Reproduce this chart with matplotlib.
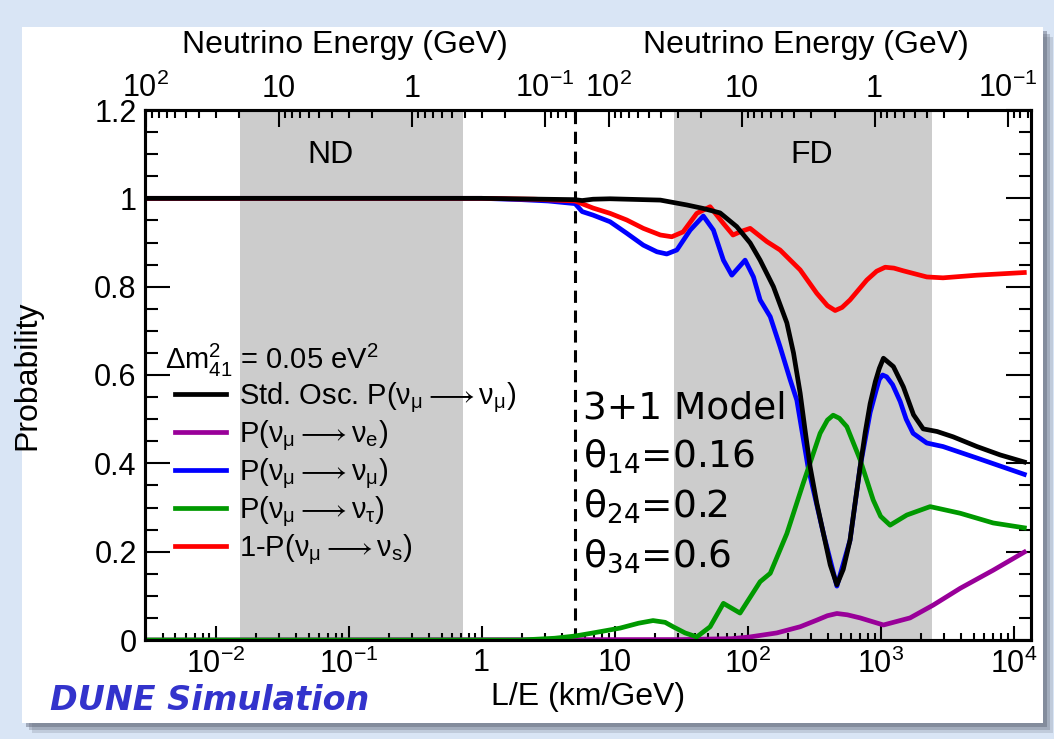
import numpy as np
import matplotlib
matplotlib.use("Agg")
import matplotlib.pyplot as plt
from matplotlib.patches import Rectangle
from matplotlib.ticker import FixedLocator, NullFormatter, LogLocator

plt.rcParams['font.family'] = ['Liberation Sans', 'DejaVu Sans']
plt.rcParams['mathtext.fontset'] = 'custom'
plt.rcParams['mathtext.rm'] = 'Liberation Sans'
plt.rcParams['mathtext.it'] = 'Liberation Sans:italic'
plt.rcParams['mathtext.bf'] = 'Liberation Sans:bold'
plt.rcParams['mathtext.default'] = 'regular'
plt.rcParams['mathtext.fallback'] = 'stixsans'

# curves: log10(L/E in km/GeV) and probability
std_lx = [-2.53, 0.0, 0.703, 0.756, 0.838, 0.966, 1.344, 1.543, 1.667, 1.793, 1.918, 2.019,
          2.094, 2.194, 2.295, 2.345, 2.395, 2.432, 2.470, 2.520, 2.570, 2.621, 2.671, 2.719,
          2.770, 2.808, 2.846, 2.884, 2.921, 2.960, 2.990, 3.021, 3.096, 3.171, 3.247, 3.320,
          3.425, 3.545, 3.724, 3.899, 4.08]
std_p = [1.0, 1.0, 0.997, 0.995, 0.998, 0.999, 0.996, 0.985, 0.977, 0.967, 0.936, 0.899,
         0.860, 0.800, 0.718, 0.650, 0.559, 0.475, 0.392, 0.310, 0.241, 0.170, 0.125, 0.160,
         0.226, 0.310, 0.392, 0.470, 0.535, 0.585, 0.615, 0.638, 0.619, 0.573, 0.510, 0.478,
         0.472, 0.460, 0.438, 0.419, 0.403]

mumu_lx = [-2.53, 0.0, 0.30, 0.50, 0.703, 0.756, 0.838, 0.966, 1.091, 1.216, 1.318, 1.392,
           1.468, 1.568, 1.667, 1.743, 1.818, 1.881, 1.981, 2.044, 2.094, 2.170, 2.244, 2.320,
           2.370, 2.454, 2.570, 2.671, 2.770, 2.846, 2.921, 2.966, 2.990, 3.015, 3.045, 3.090,
           3.147, 3.192, 3.244, 3.347, 3.469, 3.724, 4.08]
mumu_p = [1.0, 1.0, 0.997, 0.994, 0.988, 0.970, 0.962, 0.947, 0.921, 0.894, 0.879, 0.874,
          0.883, 0.928, 0.960, 0.928, 0.860, 0.826, 0.860, 0.822, 0.770, 0.732, 0.664, 0.589,
          0.543, 0.392, 0.241, 0.122, 0.226, 0.392, 0.515, 0.565, 0.590, 0.600, 0.596, 0.578,
          0.540, 0.500, 0.468, 0.446, 0.438, 0.412, 0.375]

sterile_lx = [-2.53, 0.0, 0.40, 0.703, 0.838, 0.966, 1.091, 1.216, 1.344, 1.430, 1.515, 1.618,
              1.718, 1.818, 1.890, 1.950, 2.019, 2.145, 2.244, 2.395, 2.520, 2.600, 2.658,
              2.710, 2.770, 2.896, 2.970, 3.034, 3.100, 3.169, 3.347, 3.469, 3.724, 4.08]
sterile_p = [1.0, 1.0, 0.998, 0.994, 0.978, 0.966, 0.951, 0.932, 0.917, 0.913, 0.924, 0.966,
             0.981, 0.943, 0.917, 0.925, 0.932, 0.902, 0.883, 0.838, 0.785, 0.757, 0.746,
             0.753, 0.770, 0.815, 0.835, 0.844, 0.842, 0.836, 0.822, 0.820, 0.826, 0.832]

mutau_lx = [-2.53, 0.30, 0.55, 0.703, 0.838, 1.042, 1.18, 1.289, 1.38, 1.44, 1.53, 1.618,
            1.718, 1.818, 1.943, 2.094, 2.170, 2.295, 2.417, 2.545, 2.600, 2.643, 2.690,
            2.746, 2.846, 2.944, 3.000, 3.071, 3.197, 3.372, 3.598, 3.846, 4.08]
mutau_p = [0.0, 0.0, 0.004, 0.009, 0.016, 0.027, 0.038, 0.044, 0.040, 0.030, 0.016, 0.007,
           0.030, 0.083, 0.061, 0.132, 0.151, 0.241, 0.354, 0.468, 0.498, 0.509, 0.502,
           0.483, 0.408, 0.317, 0.280, 0.260, 0.283, 0.302, 0.287, 0.265, 0.254]

mue_lx = [-2.53, 1.5, 1.881, 2.019, 2.219, 2.395, 2.52, 2.60, 2.671, 2.75, 2.846, 3.021,
          3.221, 3.395, 3.598, 3.846, 4.08]
mue_p = [0.0, 0.001, 0.003, 0.007, 0.016, 0.030, 0.045, 0.055, 0.060, 0.057, 0.050, 0.034,
         0.050, 0.079, 0.117, 0.158, 0.199]

# detector bands (L/E) and ND/FD boundary
nd_band = (0.0153, 0.726)
fd_band = (28.0, 2440.0)
boundary = 5.05
L_nd = 0.3     # km, sets the top energy scale on the left
L_fd = 900.0   # km, top energy scale on the right

energy_ticks = [100, 10, 1, 0.1]
energy_labels = ['$10^{2}$', '10', '1', '$10^{-1}$']
le_ticks = [1e-2, 1e-1, 1, 10, 1e2, 1e3, 1e4]
le_labels = ['$10^{-2}$', '$10^{-1}$', '1', '10', '$10^{2}$', '$10^{3}$', '$10^{4}$']
y_ticks = [0, 0.2, 0.4, 0.6, 0.8, 1.0, 1.2]
y_labels = ['0', '0.2', '0.4', '0.6', '0.8', '1', '1.2']

labels = ['Std. Osc. P(ν$_{μ}$$\\longrightarrow$ν$_{μ}$)',
          'P(ν$_{μ}$$\\longrightarrow$ν$_{e}$)',
          'P(ν$_{μ}$$\\longrightarrow$ν$_{μ}$)',
          'P(ν$_{μ}$$\\longrightarrow$ν$_{τ}$)',
          '1-P(ν$_{μ}$$\\longrightarrow$ν$_{s}$)']

W, H = 1054, 739
fig = plt.figure(figsize=(W / 100, H / 100), dpi=100)
fig.patch.set_facecolor('#d9e5f5')

# white panel with a soft shadow
for i, a in enumerate([0.2, 0.3, 0.45]):
    off = 10 - 3 * i
    fig.add_artist(Rectangle(((22 + off) / W, (H - 723 - off) / H), 1021 / W, 696 / H,
                             transform=fig.transFigure, facecolor='#5f6577', alpha=a,
                             edgecolor='none', zorder=-3))
fig.add_artist(Rectangle((22 / W, (H - 723) / H), 1021 / W, 696 / H, transform=fig.transFigure,
                         facecolor='white', edgecolor='none', zorder=-2))

ax = fig.add_axes([145 / W, (H - 640) / H, (1031 - 145) / W, (640 - 110) / H])
ax.set_xscale('log')
ax.set_xlim(2.95e-3, 1.35e4)
ax.set_ylim(0, 1.2)

ax.axvspan(*nd_band, color='#cccccc', lw=0, zorder=0)
ax.axvspan(*fd_band, color='#cccccc', lw=0, zorder=0)
ax.axvline(boundary, color='black', lw=2.2, ls=(0, (4, 2.5)), zorder=1)

lw = 3.4
l_e, = ax.plot(10 ** np.array(mue_lx), mue_p, color='#990099', lw=lw, zorder=3)
l_mu, = ax.plot(10 ** np.array(mumu_lx), mumu_p, color='#0000ff', lw=lw, zorder=3)
l_tau, = ax.plot(10 ** np.array(mutau_lx), mutau_p, color='#009900', lw=lw, zorder=4)
l_s, = ax.plot(10 ** np.array(sterile_lx), sterile_p, color='#ff0000', lw=lw, zorder=3)
l_std, = ax.plot(10 ** np.array(std_lx), std_p, color='black', lw=lw, zorder=5)
handles = [l_std, l_e, l_mu, l_tau, l_s]

for s in ax.spines.values():
    s.set_linewidth(2.2)

ax.set_xticks(le_ticks)
ax.set_xticklabels(le_labels)
ax.xaxis.set_minor_locator(LogLocator(base=10, subs=np.arange(2, 10)))
ax.xaxis.set_minor_formatter(NullFormatter())
ax.set_yticks(y_ticks)
ax.set_yticklabels(y_labels)
ax.yaxis.set_minor_locator(FixedLocator(np.arange(0, 1.21, 0.05)))
ax.tick_params(axis='x', which='major', direction='in', length=10, width=1.5, labelsize=22, pad=6, top=False)
ax.tick_params(axis='x', which='minor', direction='in', length=5, width=1.5, top=False)
ax.tick_params(axis='y', which='major', direction='in', length=18, width=1.5, labelsize=22, right=True, pad=6)
ax.tick_params(axis='y', which='minor', direction='in', length=9, width=1.5, right=True)
ax.set_xlabel('L/E (km/GeV)', fontsize=23, labelpad=2)
ax.set_ylabel('Probability', fontsize=23)
ax.yaxis.set_label_coords(-0.116, 0.5)

# top energy axes
top = ax.twiny()
top.set_xscale('log')
top.set_xlim(ax.get_xlim())
major_pos = [L_nd / e for e in energy_ticks] + [L_fd / e for e in energy_ticks]
top.xaxis.set_major_locator(FixedLocator(major_pos))
top.set_xticklabels(energy_labels + energy_labels)
minor_e = [m * 10.0 ** k for k in range(-2, 3) for m in range(2, 10)]
minor_pos = [L_nd / e for e in minor_e if L_nd / e < boundary and L_nd / e > 2.95e-3]
minor_pos += [L_fd / e for e in minor_e if L_fd / e > boundary and L_fd / e < 1.35e4]
top.xaxis.set_minor_locator(FixedLocator(minor_pos))
top.xaxis.set_minor_formatter(NullFormatter())
top.tick_params(axis='x', which='major', direction='in', length=12, width=1.5, labelsize=22, pad=4)
top.tick_params(axis='x', which='minor', direction='in', length=6, width=1.5)
for s in top.spines.values():
    s.set_linewidth(2.2)

fig.text(345 / W, 1 - 45 / H, 'Neutrino Energy (GeV)', fontsize=23, ha='center', va='center')
fig.text(806 / W, 1 - 45 / H, 'Neutrino Energy (GeV)', fontsize=23, ha='center', va='center')

ax.text(0.073, 1.098, 'ND', fontsize=23, ha='center', va='center')
ax.text(305, 1.098, 'FD', fontsize=23, ha='center', va='center')

tx = 5.8
ax.text(tx, 0.525, '3+1 Model', fontsize=27, family='DejaVu Sans', va='center', ha='left')
for yy, s in zip([0.415, 0.302, 0.189], ['θ$_{14}$=0.16', 'θ$_{24}$=0.2', 'θ$_{34}$=0.6']):
    ax.text(tx, yy, s, fontsize=27, family='DejaVu Sans', math_fontfamily='dejavusans',
            va='center', ha='left')

ax.text(0.0226, 0.528, 'Δ$m^{2}_{41}$ = 0.05 eV$^{2}$', fontsize=21, transform=ax.transAxes,
        va='center', ha='left')
leg = ax.legend(handles, labels, loc='upper left', bbox_to_anchor=(0.034, 0.49),
                frameon=False, fontsize=21, handlelength=1.75, handletextpad=0.45,
                labelspacing=0.12, borderpad=0, borderaxespad=0)

fig.text(50 / W, 1 - 700 / H, 'DUNE Simulation', fontsize=24, color='#3333cc',
         family='DejaVu Sans', weight='bold', style='italic', va='center', ha='left')

fig.savefig('out.png', dpi=100)
